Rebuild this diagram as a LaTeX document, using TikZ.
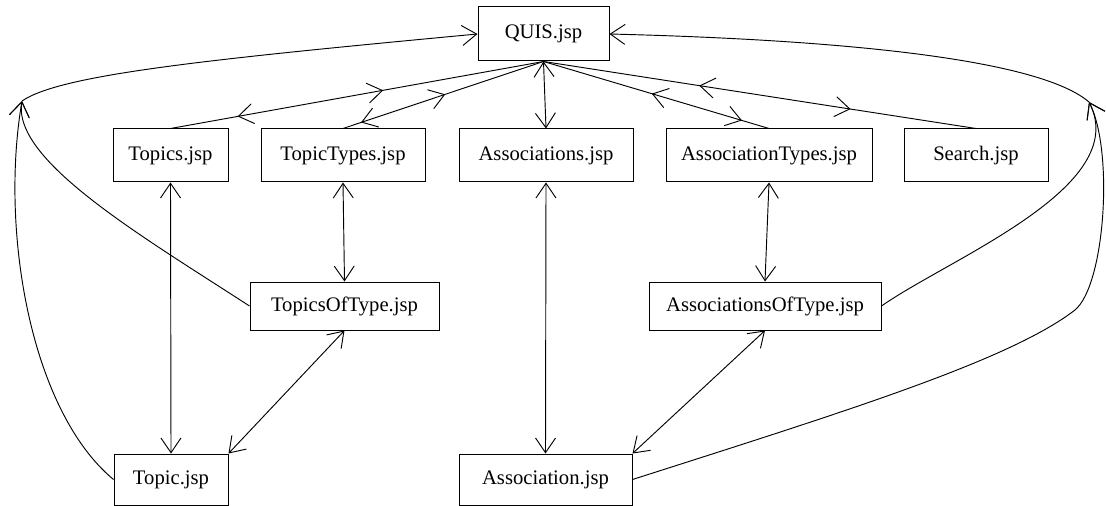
\documentclass[tikz,border=0pt]{standalone}
\usepackage{fontspec}
\setmainfont{Liberation Serif}
\usetikzlibrary{arrows.meta,decorations.markings}

\tikzset{jspbarb/.tip={Straight Barb[length=11pt,width=15pt]}}

\begin{document}
\begin{tikzpicture}[x=0.75pt,y=0.75pt,yscale=-1,xscale=1,
  jsp/.style={draw, line width=0.75pt, inner sep=0pt, minimum height=39.75pt, font=\fontsize{15.5}{18}\selectfont},
  link/.style={line width=0.7pt},
  midbarbs/.style 2 args={postaction={decorate,decoration={markings,
      mark=at position #1 with {\arrow{jspbarb}},
      mark=at position #2 with {\arrowreversed{jspbarb}}}}}]
\useasboundingbox (0,0) rectangle (1106,506);

% Text Node
\node [jsp, minimum width=98.25pt, minimum height=40.5pt] (QUIS) at (543.5,34) {QUIS.jsp};
% Text Node
\node [jsp, minimum width=86.25pt] (Topics) at (170.5,155.5) {Topics.jsp};
% Text Node
\node [jsp, minimum width=123pt] (TopicTypes) at (343,155.5) {TopicTypes.jsp};
% Text Node
\node [jsp, minimum width=130.5pt] (Associations) at (546,155.5) {Associations.jsp};
% Text Node
\node [jsp, minimum width=154.5pt] (AssociationTypes) at (769,155.5) {AssociationTypes.jsp};
% Text Node
\node [jsp, minimum width=108pt] (Search) at (976,155.5) {Search.jsp};
% Text Node
\node [jsp, minimum width=141.75pt, minimum height=36pt] (TopicsOfType) at (344.5,306) {TopicsOfType.jsp};
% Text Node
\node [jsp, minimum width=174pt, minimum height=36pt] (AssociationsOfType) at (765,306) {AssociationsOfType.jsp};
% Text Node
\node [jsp, minimum width=85.5pt, minimum height=38.25pt] (Topic) at (171,479.5) {Topic.jsp};
% Text Node
\node [jsp, minimum width=129.75pt, minimum height=38.25pt] (Association) at (545.5,479.5) {Association.jsp};

\coordinate (J1) at (22,101);
\coordinate (J2) at (1089,102);

%Straight Lines
\draw [link, midbarbs={0.57}{0.18}] (Topics.north) -- (QUIS.south);
\draw [link, midbarbs={0.51}{0.09}] (TopicTypes.north) -- (QUIS.south);
\draw [link, midbarbs={0.52}{0.12}] (AssociationTypes.north) -- (QUIS.south);
\draw [link, midbarbs={0.64}{0.29}] (Search.north) -- (QUIS.south);
\draw [link, jspbarb-jspbarb] (QUIS.south) -- (Associations.north);
\draw [link, jspbarb-jspbarb] (Topics.south) -- (Topic.north);
\draw [link, jspbarb-jspbarb] (TopicTypes.south) -- (TopicsOfType.north);
\draw [link, jspbarb-jspbarb] (Associations.south) -- (Association.north);
\draw [link, jspbarb-jspbarb] (AssociationTypes.south) -- (AssociationsOfType.north);
\draw [link, jspbarb-jspbarb] (TopicsOfType.south) -- (Topic.north east);
\draw [link, jspbarb-jspbarb] (AssociationsOfType.south) -- (Association.north east);

%Curve Lines
\draw [link, -jspbarb] (Topic.west) .. controls (30,410) and (0,230) .. (J1);
\draw [link, -jspbarb] (TopicsOfType.west) .. controls (140,235) and (12,160) .. (J1);
\draw [link, -jspbarb] (J1) .. controls (60,75) and (200,60) .. (QUIS.west);
\draw [link, jspbarb-] (QUIS.east) .. controls (850,40) and (1040,60) .. (J2);
\draw [link, -jspbarb] (AssociationsOfType.east) .. controls (950,258) and (1132,187) .. (J2);
\draw [link, -jspbarb] (Association.east) .. controls (850,410) and (1010,360) .. (1075,310) .. controls (1105,285) and (1114,151) .. (J2);

\end{tikzpicture}
\end{document}
